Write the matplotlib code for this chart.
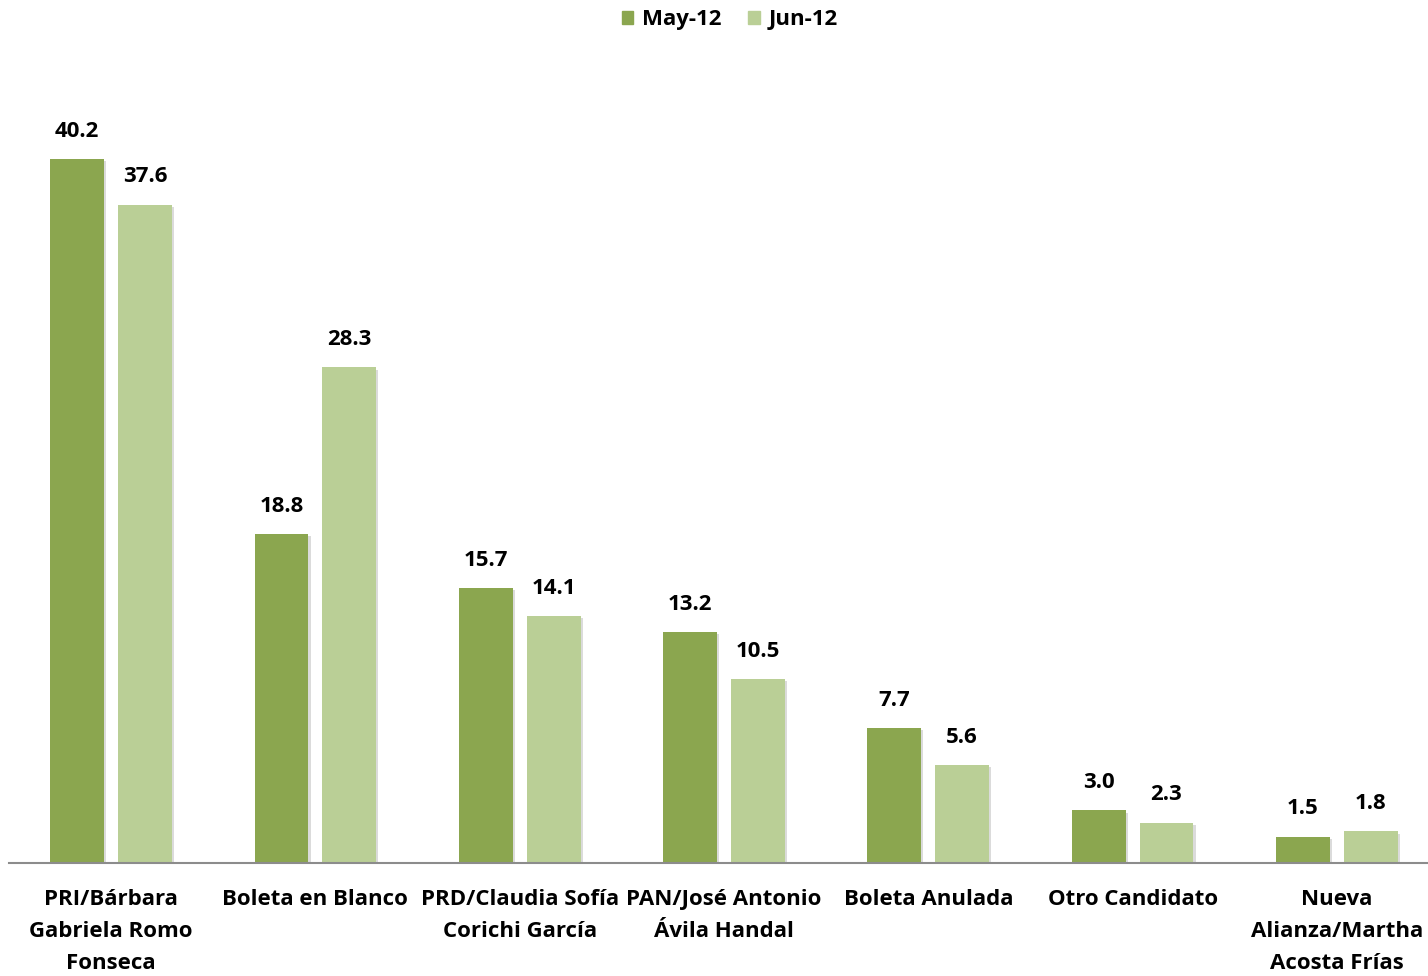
import numpy as np
import matplotlib
matplotlib.use("Agg")
import matplotlib.pyplot as plt
import matplotlib.patheffects as pe
from matplotlib.patches import Patch

categories = ["PRI/Bárbara\nGabriela Romo\nFonseca", "Boleta en Blanco", "PRD/Claudia Sofía\nCorichi García",
              "PAN/José Antonio\nÁvila Handal", "Boleta Anulada", "Otro Candidato",
              "Nueva\nAlianza/Martha\nAcosta Frías"]
may_12 = [40.2, 18.8, 15.7, 13.2, 7.7, 3.0, 1.5]
jun_12 = [37.6, 28.3, 14.1, 10.5, 5.6, 2.3, 1.8]
series_names = ["May-12", "Jun-12"]
colors = ['#8BA64F', '#BACF96']

plt.rcParams['font.family'] = ['Open Sans', 'DejaVu Sans']
plt.rcParams['font.weight'] = 'bold'

fig = plt.figure(figsize=(14.28, 9.76), dpi=100)
ax = fig.add_axes([9 / 1428, 113 / 976, 1430 / 1428, 788 / 976])

x = np.arange(len(categories))
w = 0.264
off = 0.166
shadow = [pe.SimplePatchShadow(offset=(1.5, -1.5), shadow_rgbFace='#999999', alpha=0.35), pe.Normal()]
b1 = ax.bar(x - off, may_12, w, color=colors[0], path_effects=shadow)
b2 = ax.bar(x + off, jun_12, w, color=colors[1], path_effects=shadow)

for bars, vals in [(b1, may_12), (b2, jun_12)]:
    for b, v in zip(bars, vals):
        ax.annotate(f"{v:.1f}", (b.get_x() + b.get_width() / 2, v), xytext=(0, 20),
                    textcoords='offset points', ha='center', va='center',
                    fontsize=16, fontweight='bold', color='black')

ax.set_xlim(-0.5, len(categories) - 0.5)
ax.set_ylim(0, 45)
ax.set_xticks(x)
ax.set_xticklabels(categories, fontsize=16, fontweight='bold', linespacing=1.68)
ax.tick_params(axis='x', length=0, pad=19)
ax.set_yticks([])
for s in ['top', 'right', 'left']:
    ax.spines[s].set_visible(False)
ax.spines['bottom'].set_color('#8c8c8c')
ax.spines['bottom'].set_linewidth(1.5)

handles = [Patch(color=c, label=n) for c, n in zip(colors, series_names)]
fig.legend(handles=handles, loc='center', bbox_to_anchor=(730 / 1428, 1 - 20 / 976), ncol=2, frameon=False,
           fontsize=16, handlelength=0.5, handleheight=0.5, handletextpad=0.4, columnspacing=1.2)

fig.savefig("out.png", dpi=100)
